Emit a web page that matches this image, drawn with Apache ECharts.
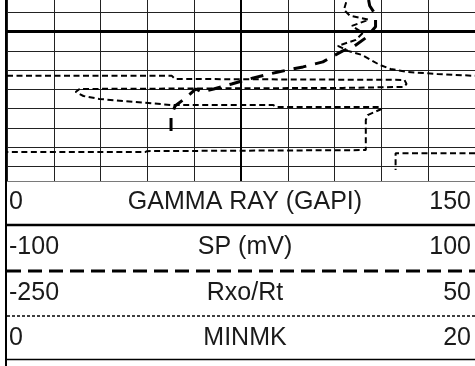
<!DOCTYPE html>
<html>
<head>
<meta charset="utf-8">
<script src="https://cdn.jsdelivr.net/npm/echarts@6/dist/echarts.min.js"></script>
<style>
  html, body { margin: 0; padding: 0; background: #fff; overflow: hidden; width: 475px; height: 366px; }
  /* the log panel starts a little above the page so the depth grid runs off the top edge */
  #log { position: absolute; left: 0; top: -7px; width: 475px; height: 373px; }
</style>
</head>
<body>
<div id="log"></div>
<script>
// Depth window (ft) and grid spacing
const depthTop = 5296;
const depthBottom = 5316;
const depthStep = 2;
const depthMajor = 5300;

// Track header: curve names and scale ends
const trackNames = ['GAMMA RAY (GAPI)', 'SP (mV)', 'Rxo/Rt', 'MINMK'];
const trackMin = [0, -100, -250, 0];
const trackMax = [150, 100, 50, 20];

// SP curve (mV), listed from deepest to shallowest
const spDepth = [5310.34, 5308.89, 5307.74, 5306.80, 5305.97, 5306.28, 5305.97, 5305.45,
  5304.82, 5304.20, 5303.68, 5303.16, 5302.01, 5301.49, 5300.66, 5299.51, 5298.26, 5297.32, 5296.18];
const spValue = [-29.9, -29.9, -28.2, -23.1, -19.3, -16.8, -11.7, -4.0,
  5.3, 15.9, 26.5, 35.0, 43.5, 48.6, 53.3, 57.5, 57.5, 55.0, 54.1];

// Rxo/Rt curve, split where the trace wraps across the track
const rxoDepth1 = [5296.00, 5296.70, 5297.74, 5298.36, 5298.78, 5299.41, 5300.14, 5300.87, 5301.49,
  5302.01, 5302.43, 5303.47, 5303.89, 5304.20, 5304.41, 5304.61];
const rxoValue1 = [-31.5, -32.1, -34.0, -30.2, -18.1, -28.9, -21.9, -26.4, -37.9,
  -31.5, -22.6, -11.1, -4.1, 6.7, 25.8, 50];
const rxoDepth2 = [5304.61, 5304.61, 5304.93, 5305.03, 5305.45, 5305.76, 5305.86, 5305.97, 5306.28,
  5306.70, 5307.01, 5307.64, 5307.64, 5307.84, 5307.84, 5308.05, 5308.68, 5309.20, 5312.32,
  5312.43, 5312.53, 5312.53];
const rxoValue2 = [-250, -144.3, -142.3, 4.8, 6.1, 4.2, -34.7, -203.5, -206.0,
  -201.0, -190.8, -144.3, -79.3, -77.4, -11.1, -9.9, -18.8, -20.0, -20.0,
  -160.2, -161.5, -250];
const rxoDepth3 = [5312.64, 5312.64, 5314.40];
const rxoValue3 = [50, -0.9, -0.9];

const pairs = (vals, depths) => vals.map((v, i) => [v, depths[i]]);

// Header line style for each curve row
const headerLine = [
  { lineWidth: 2.5, lineDash: null },
  { lineWidth: 3, lineDash: [14, 7] },
  { lineWidth: 1.5, lineDash: [3, 2] },
  { lineWidth: 1.5, lineDash: null }
];
const panelShift = 7; // panel top sits this far above the page
const rowTextY = [202, 247, 293, 338];
const rowLineY = [225, 271, 316, 359.5];

const ink = '#000';
const textInk = '#1a1a1a';
const rxoStyle = { color: ink, width: 2, type: [6, 3.5] };

const chart = echarts.init(document.getElementById('log'), null, { renderer: 'canvas' });

const py = (y) => y + panelShift;
const graphics = [
  { type: 'rect', z: 100, shape: { x: 0, y: py(181), width: 475, height: 200 }, style: { fill: '#fff' } },
  { type: 'line', z: 101, shape: { x1: 7, y1: py(181.5), x2: 475, y2: py(181.5) }, style: { stroke: '#7a7a7a', lineWidth: 1 } }
];
trackNames.forEach((name, i) => {
  const y = py(rowTextY[i]);
  const font = '25px "Liberation Sans", Arial, sans-serif';
  graphics.push(
    { type: 'text', z: 101, x: 9, y: y, style: { text: String(trackMin[i]), font: font, fill: textInk, align: 'left', verticalAlign: 'middle' } },
    { type: 'text', z: 101, x: 245, y: y, style: { text: name, font: font, fill: textInk, align: 'center', verticalAlign: 'middle' } },
    { type: 'text', z: 101, x: 471, y: y, style: { text: String(trackMax[i]), font: font, fill: textInk, align: 'right', verticalAlign: 'middle' } },
    { type: 'line', z: 101, shape: { x1: 7, y1: py(rowLineY[i]), x2: 475, y2: py(rowLineY[i]) },
      style: { stroke: '#000', lineWidth: headerLine[i].lineWidth, lineDash: headerLine[i].lineDash } }
  );
});
graphics.push({ type: 'rect', z: 102, shape: { x: 5, y: 0, width: 2, height: 380 }, style: { fill: '#000' } });

const option = {
  animation: false,
  backgroundColor: '#fff',
  grid: { left: 7, top: 0, width: 471, height: 192.5, containLabel: false },
  xAxis: [
    {
      type: 'value', min: 0, max: 10, interval: 1,
      axisLine: { show: false }, axisTick: { show: false }, axisLabel: { show: false },
      splitLine: { show: true, lineStyle: { color: '#222', width: 1 } }
    }
  ].concat(trackMin.map((mn, i) => ({ type: 'value', min: mn, max: trackMax[i], show: false }))),
  yAxis: {
    type: 'value', inverse: true, min: depthTop, max: depthBottom, interval: depthStep,
    axisLine: { show: false }, axisTick: { show: false }, axisLabel: { show: false },
    splitLine: { show: true, lineStyle: { color: '#222', width: 1 } }
  },
  series: [
    {
      name: trackNames[1], type: 'line', xAxisIndex: 2, symbol: 'none', smooth: false,
      data: pairs(spValue, spDepth),
      lineStyle: { color: ink, width: 3, type: [13, 9] },
      markLine: {
        silent: true, symbol: 'none', label: { show: false },
        data: [
          { yAxis: depthMajor, lineStyle: { color: '#000', width: 3, type: 'solid' } },
          { xAxis: 0, lineStyle: { color: '#000', width: 2, type: 'solid' } }
        ]
      }
    },
    { name: trackNames[2], type: 'line', xAxisIndex: 3, symbol: 'none', data: pairs(rxoValue1, rxoDepth1), lineStyle: rxoStyle },
    { name: trackNames[2], type: 'line', xAxisIndex: 3, symbol: 'none', data: pairs(rxoValue2, rxoDepth2), lineStyle: rxoStyle },
    { name: trackNames[2], type: 'line', xAxisIndex: 3, symbol: 'none', data: pairs(rxoValue3, rxoDepth3), lineStyle: rxoStyle }
  ],
  graphic: graphics
};
chart.setOption(option);
</script>
</body>
</html>
